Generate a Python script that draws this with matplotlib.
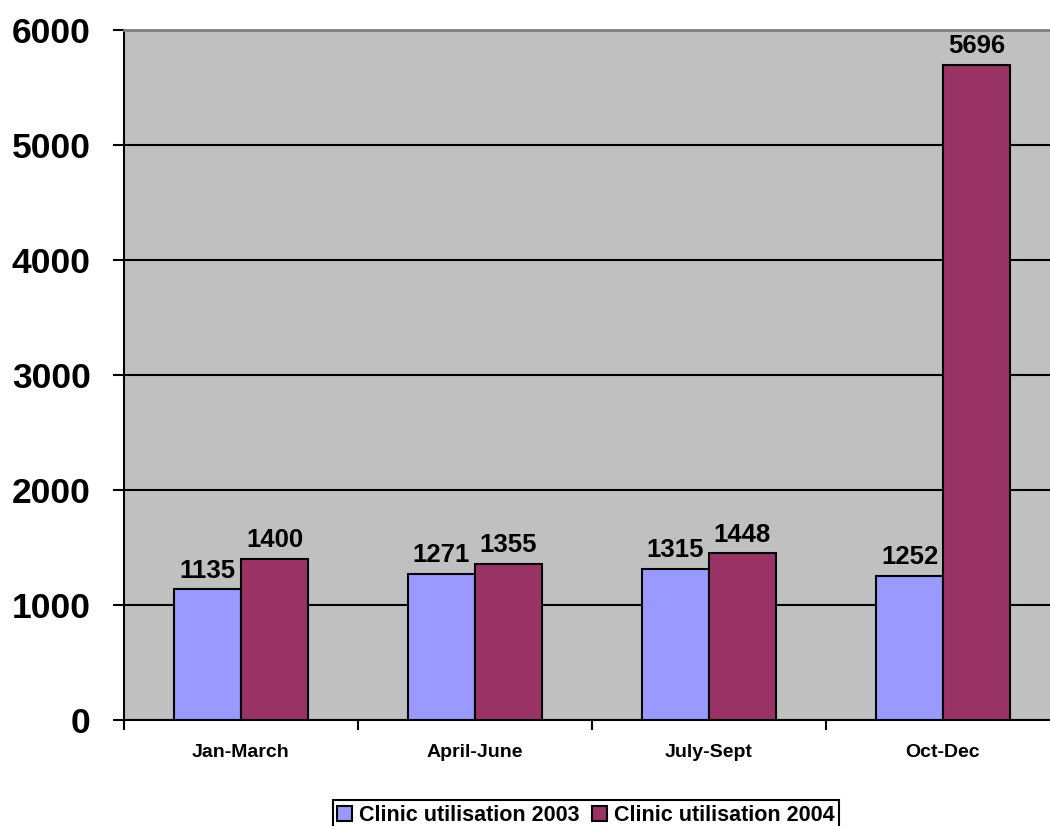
import numpy as np
import matplotlib
matplotlib.use("Agg")
import matplotlib.pyplot as plt

categories = ["Jan-March", "April-June", "July-Sept", "Oct-Dec"]
vals_2003 = [1135, 1271, 1315, 1252]
vals_2004 = [1400, 1355, 1448, 5696]
series_names = ["Clinic utilisation 2003", "Clinic utilisation 2004"]
yticks = [0, 1000, 2000, 3000, 4000, 5000, 6000]

plt.rcParams['font.family'] = ['Liberation Sans', 'DejaVu Sans']
plt.rcParams['font.weight'] = 'bold'

fig = plt.figure(figsize=(10.5, 8.26), dpi=100)
ax = fig.add_axes([124/1050, 106/826, 936/1050, 690/826])
ax.set_facecolor('#C0C0C0')

x = np.arange(len(categories))
w = 0.286
b1 = ax.bar(x - w/2, vals_2003, w, color='#9999FF', edgecolor='black', linewidth=1.5,
            label=series_names[0], zorder=3)
b2 = ax.bar(x + w/2, vals_2004, w, color='#993366', edgecolor='black', linewidth=1.5,
            label=series_names[1], zorder=3)

# value labels above each bar
for bars, vals in ((b1, vals_2003), (b2, vals_2004)):
    for r, v in zip(bars, vals):
        ax.annotate(str(v), (r.get_x() + r.get_width()/2, v), xytext=(0, 5),
                    textcoords='offset points', ha='center', va='bottom',
                    fontsize=18.5, fontweight='bold')

ax.set_ylim(0, 6000)
ax.set_xlim(-0.5, len(categories) - 0.5)
ax.set_yticks(yticks)
ax.set_yticklabels([str(t) for t in yticks], fontsize=25.5, fontweight='bold')
ax.yaxis.grid(True, color='black', linewidth=1.5, zorder=1)
ax.set_axisbelow(True)

ax.set_xticks(np.arange(-0.5, len(categories)), labels=[])
ax.set_xticks(x, minor=True)
ax.set_xticklabels(categories, minor=True, fontsize=14, fontweight='bold')
ax.tick_params(axis='x', which='minor', length=0, pad=17)
ax.tick_params(axis='x', which='major', length=7, width=1.5, direction='out')
ax.tick_params(axis='y', length=8, width=1.5, pad=16)

ax.spines['left'].set_linewidth(1.5)
ax.spines['bottom'].set_linewidth(1.5)
ax.spines['top'].set_color('#808080')
ax.spines['top'].set_linewidth(2)
ax.spines['right'].set_color('#808080')

leg = fig.legend(handles=[b1, b2], loc='upper center', bbox_to_anchor=(0.558, 0.044),
                 ncol=2, frameon=True, fancybox=False, framealpha=1,
                 edgecolor='black', handlelength=0.7, handleheight=0.7,
                 handletextpad=0.3, columnspacing=0.6, borderpad=0.2,
                 prop={'weight': 'bold', 'size': 15.5})
leg.get_frame().set_linewidth(1.5)

fig.savefig("out.png", dpi=100)
